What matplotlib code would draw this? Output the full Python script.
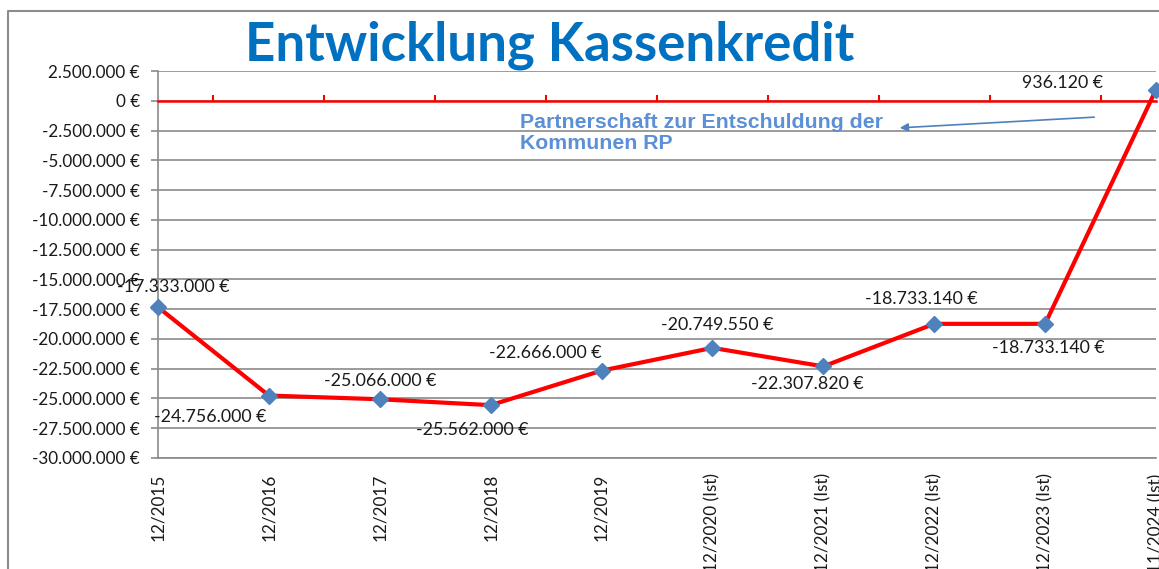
import matplotlib
matplotlib.use("Agg")
import matplotlib.pyplot as plt
from matplotlib.lines import Line2D
from matplotlib.ticker import FuncFormatter, FixedLocator
import numpy as np

categories = ["12/2015", "12/2016", "12/2017", "12/2018", "12/2019",
              "12/2020 (Ist)", "12/2021 (Ist)", "12/2022 (Ist)", "12/2023 (Ist)", "11/2024 (Ist)"]
values = [-17333000, -24756000, -25066000, -25562000, -22666000,
          -20749550, -22307820, -18733140, -18733140, 936120]
title = "Entwicklung Kassenkredit"
note = "Partnerschaft zur Entschuldung der\nKommunen RP"

# label offsets in pixels (style)
label_offsets = [(15, 20), (-59, -21), (0, 18), (-18, -25), (-56, 18),
                 (5, 23), (-16, -18), (-13, 25), (3, -24), (-93, 7)]

W, H = 1159, 569
fig = plt.figure(figsize=(W / 100, H / 100), dpi=100)
fig.patch.set_facecolor("white")

FONT = "Lato"

def euro_lbl(v):
    s = f"{abs(v):,.0f}".replace(",", ".")
    return ("-" if v < 0 else "") + s + " €"

ax = fig.add_axes([158 / W, 1 - 458 / H, (1156 - 158) / W, (458 - 71) / H])
x = np.arange(len(categories))
ax.set_xlim(0, len(categories) - 1)
ax.set_ylim(-30000000, 2500000)
ax.yaxis.set_major_locator(FixedLocator(np.arange(-30000000, 2500001, 2500000)))
ax.yaxis.set_major_formatter(FuncFormatter(lambda v, p: euro_lbl(v)))
ax.grid(axis="y", color="#8a8a8a", lw=1.2)
ax.set_axisbelow(True)
for s in ["top", "right"]:
    ax.spines[s].set_visible(False)
for s in ["left", "bottom"]:
    ax.spines[s].set_color("#8a8a8a")
    ax.spines[s].set_linewidth(1.2)
ax.tick_params(axis="y", direction="out", length=5, width=1.2, color="#8a8a8a",
               labelsize=12.3, labelcolor="#1a1a1a", pad=8)
ax.set_xticks(x)
ax.set_xticklabels(categories, rotation=90, fontsize=12.3, color="#1a1a1a", family=FONT)
ax.tick_params(axis="x", length=0, pad=11)
for t in ax.get_yticklabels():
    t.set_family(FONT)

# red zero axis with tick marks between categories
ax2 = ax.twiny()
ax2.set_xlim(ax.get_xlim())
for s in ["bottom", "left", "right"]:
    ax2.spines[s].set_visible(False)
ax2.spines["top"].set_position(("data", 0))
ax2.spines["top"].set_color("#ff0000")
ax2.spines["top"].set_linewidth(1.8)
ax2.set_xticks(x[:-1] + 0.5)
ax2.tick_params(axis="x", direction="out", length=4, width=1.5, color="#ff0000",
                labeltop=False, labelbottom=False)

ax.plot(x, values, color="#ff0000", lw=3, zorder=3, clip_on=False)
ax.plot(x, values, linestyle="none", marker="D", ms=8, mfc="#4f81bd", mec="#4f81bd",
        zorder=4, clip_on=False)

for xi, v, (dx, dy) in zip(x, values, label_offsets):
    ax.annotate(euro_lbl(v), (xi, v), xytext=(dx, dy), textcoords="offset pixels",
                ha="center", va="center", fontsize=12.8, color="#1a1a1a",
                family=FONT, zorder=5, annotation_clip=False)

fig.text(550 / W, 1 - 45 / H, title, ha="center", va="center", fontsize=38,
         fontweight="bold", color="#0070c0", family=FONT)

fig.text(520 / W, 1 - 133 / H, note, ha="left", va="center", fontsize=15.3,
         fontweight="bold", color="#5b8fd6", family="Liberation Sans", linespacing=1.1)
ax.annotate("", xy=(897, H - 128), xycoords="figure pixels",
            xytext=(1097, H - 117), textcoords="figure pixels",
            arrowprops=dict(arrowstyle="-|>", color="#4f81bd", lw=1.2,
                            mutation_scale=12))

# outer chart border
fig.add_artist(Line2D([8 / W, 8 / W, 1], [0, 1 - 11 / H, 1 - 11 / H],
                      transform=fig.transFigure, color="#8c8c8c", lw=1.5))

fig.savefig("out.png", dpi=100)
